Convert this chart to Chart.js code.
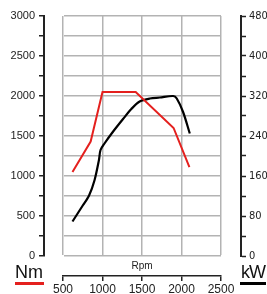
<!DOCTYPE html>
<html>
<head>
<meta charset="utf-8">
<script src="https://cdn.jsdelivr.net/npm/chart.js@4.4.0/dist/chart.umd.min.js"></script>
<style>
  html, body { margin: 0; padding: 0; background: #fff; }
  #wrap { position: relative; width: 267px; height: 294px; overflow: hidden; }
  .unit { position: absolute; font-family: "Liberation Sans", Arial, sans-serif; font-size: 18px; line-height: 18px; color: #111; }
  .bar { position: absolute; height: 3px; }
</style>
</head>
<body>
<div id="wrap">
  <canvas id="chart" width="267" height="294"></canvas>
  <div class="unit" style="left:15px; top:263px;">Nm</div>
  <div class="bar" style="left:15px; top:282px; width:29px; background:#e4201e;"></div>
  <div class="unit" style="left:241px; top:263px; letter-spacing:-1px;">kW</div>
  <div class="bar" style="left:240px; top:282px; width:26px; height:2.5px; background:#000;"></div>
</div>
<script>
// torque curve (Nm over rpm)
const torqueRpm = [620, 850, 1000, 1420, 1900, 2100];
const torqueNm = [1050, 1430, 2050, 2050, 1600, 1110];

// power curve (kW over rpm)
const powerRpm = [620, 750, 830, 900, 955, 975, 1025, 1130, 1260, 1365, 1470, 1600, 1725, 1895, 1940, 2020, 2105];
const powerKw = [69, 101, 121, 152, 192, 212, 225, 248, 274, 294, 309, 315, 317, 320, 315, 288, 245];

// axes
const rpmRange = [500, 2500];
const nmRange = [0, 3000];
const kwRange = [0, 480];

const tickFont = { family: '"Liberation Sans", Arial, sans-serif', size: 11 };
const gridColor = '#b3b3b3';
const axisColor = '#222';

function toPoints(xs, ys) {
    return xs.map((x, i) => ({ x: x, y: ys[i] }));
}

// empty scale that only keeps a gap between an axis and the plot
function gapScale(position, size, extra) {
    return Object.assign({
        type: 'linear',
        position: position,
        weight: 0,
        min: 0, max: 1,
        grid: { display: false },
        border: { display: false },
        ticks: { display: false },
        afterFit: s => { if (s.isHorizontal()) s.height = size; else s.width = size; }
    }, extra || {});
}

new Chart(document.getElementById('chart'), {
    type: 'line',
    data: {
        datasets: [
            {
                label: 'Nm',
                data: toPoints(torqueRpm, torqueNm),
                borderColor: '#e4201e',
                borderWidth: 2,
                pointRadius: 0,
                tension: 0,
                xAxisID: 'x', yAxisID: 'y'
            },
            {
                label: 'kW',
                data: toPoints(powerRpm, powerKw),
                borderColor: '#000',
                borderWidth: 2.2,
                pointRadius: 0,
                tension: 0.3,
                xAxisID: 'x', yAxisID: 'y1'
            }
        ]
    },
    options: {
        responsive: false,
        animation: false,
        devicePixelRatio: 1,
        layout: { padding: { top: 16, left: 0, right: 0, bottom: 0 } },
        plugins: { legend: { display: false }, tooltip: { enabled: false } },
        scales: {
            x: {
                type: 'linear', position: 'bottom', weight: 10,
                min: rpmRange[0], max: rpmRange[1],
                ticks: { stepSize: 250, padding: 1, color: '#222', maxRotation: 0,
                    font: { family: tickFont.family, size: 12 },
                    callback: v => v % 500 === 0 ? v : '' },
                grid: { color: gridColor, lineWidth: 1.5, tickColor: axisColor, tickWidth: 1.5, tickLength: 5 },
                border: { color: axisColor, width: 1.5 },
                afterFit: s => { s.height = 18; }
            },
            xGap: gapScale('bottom', 20, {
                title: { display: true, text: 'Rpm', color: '#222', padding: { top: 0, bottom: 4 },
                    font: { family: tickFont.family, size: 10 } }
            }),
            y: {
                type: 'linear', position: 'left', weight: 10,
                min: nmRange[0], max: nmRange[1],
                ticks: { stepSize: 250, padding: 4, color: '#222', font: tickFont,
                    callback: v => v % 500 === 0 ? v : '' },
                grid: { color: gridColor, lineWidth: 1.5, tickColor: axisColor, tickWidth: 1.5, tickLength: 5 },
                border: { color: axisColor, width: 2 },
                afterFit: s => { s.width = 44; }
            },
            yGap: gapScale('left', 19),
            y1: {
                type: 'linear', position: 'right', weight: 10,
                min: kwRange[0], max: kwRange[1],
                ticks: { stepSize: 40, padding: 3, color: '#222',
                    font: { family: '"Liberation Sans Narrow", "DejaVu Sans Condensed", "Liberation Sans", sans-serif', size: 11 },
                    callback: v => v % 80 === 0 ? v : '' },
                grid: { drawOnChartArea: false, tickColor: axisColor, tickWidth: 1.5, tickLength: 5 },
                border: { color: axisColor, width: 2 },
                afterFit: s => { s.width = 26; }
            },
            y1Gap: gapScale('right', 20)
        }
    }
});
</script>
</body>
</html>
